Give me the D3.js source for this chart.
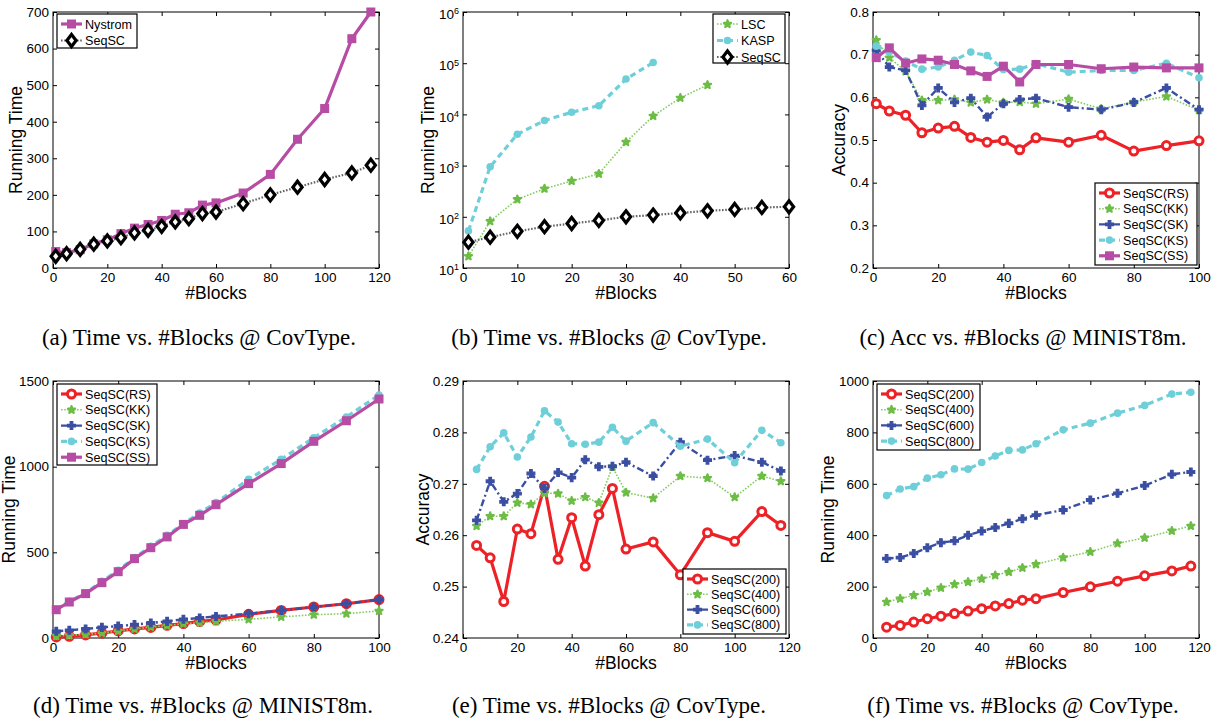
<!DOCTYPE html>
<html>
<head>
<meta charset="utf-8">
<script src="https://cdn.jsdelivr.net/npm/d3@7"></script>
<style>
  body { margin: 0; background: #fff; }
  svg { display: block; }
  .tick text { font-family: "Liberation Sans", Arial, sans-serif; font-size: 13.5px; fill: #000; }
  .tick line { stroke: #000; }
</style>
</head>
<body>
<script>
// ---- data ----

// (a) Time vs. #Blocks @ CovType
const blocksA = [1, 5, 10, 15, 20, 25, 30, 35, 40, 45, 50, 55, 60, 70, 80, 90, 100, 110, 117];
const nystromA = [45, 42, 50, 66, 77, 94, 109, 119, 130, 147, 151, 172, 178, 205, 256, 352, 436, 627, 700];
const seqscA = [32, 39, 51, 65, 74, 83, 96, 103, 114, 126, 135, 149, 153, 176, 200, 221, 242, 260, 281];

// (b) Time vs. #Blocks @ CovType (log scale)
const blocksLscB = [1, 5, 10, 15, 20, 25, 30, 35, 40, 45];
const lscB = [17, 82, 219, 354, 500, 690, 2880, 9300, 21000, 37600];
const blocksKaspB = [1, 5, 10, 15, 20, 25, 30, 35];
const kaspB = [53, 950, 4100, 7600, 11000, 14800, 49000, 103000];
const blocksSeqB = [1, 5, 10, 15, 20, 25, 30, 35, 40, 45, 50, 55, 60];
const seqscB = [32, 40, 52, 64, 74, 85, 100, 108, 119, 131, 139, 152, 157];

// (c) Acc vs. #Blocks @ MINIST8m
const blocksC = [1, 5, 10, 15, 20, 25, 30, 35, 40, 45, 50, 60, 70, 80, 90, 100];
const rsC = [0.585, 0.568, 0.558, 0.517, 0.528, 0.532, 0.506, 0.495, 0.499, 0.477, 0.505, 0.495, 0.511, 0.474, 0.487, 0.498];
const kkC = [0.734, 0.693, 0.661, 0.593, 0.593, 0.595, 0.588, 0.595, 0.588, 0.589, 0.585, 0.596, 0.573, 0.589, 0.602, 0.570];
const skC = [0.710, 0.671, 0.663, 0.581, 0.622, 0.588, 0.598, 0.554, 0.585, 0.595, 0.598, 0.577, 0.571, 0.588, 0.622, 0.571];
const ksC = [0.720, 0.706, 0.685, 0.666, 0.671, 0.687, 0.706, 0.698, 0.665, 0.666, 0.679, 0.659, 0.663, 0.663, 0.680, 0.646];
const ssC = [0.693, 0.716, 0.680, 0.690, 0.687, 0.677, 0.662, 0.649, 0.673, 0.636, 0.677, 0.677, 0.667, 0.671, 0.669, 0.669];

// (d) Time vs. #Blocks @ MINIST8m
const blocksD = [1, 5, 10, 15, 20, 25, 30, 35, 40, 45, 50, 60, 70, 80, 90, 100];
const rsD = [6, 10, 18, 29, 41, 53, 62, 74, 84, 97, 105, 138, 161, 181, 200, 224];
const kkD = [12, 16, 21, 29, 41, 53, 64, 72, 84, 89, 97, 109, 123, 136, 142, 158];
const skD = [39, 45, 53, 62, 70, 78, 88, 97, 109, 117, 126, 142, 161, 181, 200, 224];
const ksD = [167, 214, 263, 331, 395, 469, 535, 599, 667, 730, 790, 926, 1043, 1169, 1290, 1418];
const ssD = [165, 210, 259, 323, 387, 463, 527, 590, 663, 716, 778, 901, 1018, 1148, 1268, 1395];

// (e) Acc vs. #Blocks @ CovType
const blocksE = [5, 10, 15, 20, 25, 30, 35, 40, 45, 50, 55, 60, 70, 80, 90, 100, 110, 117];
const s200E = [0.2580, 0.2556, 0.2471, 0.2612, 0.2603, 0.2695, 0.2553, 0.2634, 0.2540, 0.2640, 0.2691, 0.2573, 0.2587, 0.2523, 0.2605, 0.2588, 0.2646, 0.2619];
const s400E = [0.2618, 0.2637, 0.2637, 0.2663, 0.2660, 0.2682, 0.2681, 0.2667, 0.2674, 0.2663, 0.2733, 0.2683, 0.2672, 0.2715, 0.2711, 0.2674, 0.2715, 0.2705];
const s600E = [0.2629, 0.2705, 0.2665, 0.2681, 0.2720, 0.2691, 0.2722, 0.2712, 0.2747, 0.2733, 0.2734, 0.2742, 0.2715, 0.2781, 0.2746, 0.2755, 0.2742, 0.2725];
const s800E = [0.2728, 0.2772, 0.2799, 0.2752, 0.2791, 0.2842, 0.2820, 0.2778, 0.2777, 0.2781, 0.2810, 0.2783, 0.2819, 0.2773, 0.2787, 0.2741, 0.2804, 0.2780];

// (f) Time vs. #Blocks @ CovType
const blocksF = [5, 10, 15, 20, 25, 30, 35, 40, 45, 50, 55, 60, 70, 80, 90, 100, 110, 117];
const s200F = [42, 49, 62, 75, 85, 95, 105, 114, 125, 134, 147, 153, 177, 199, 221, 242, 261, 280];
const s400F = [140, 153, 166, 179, 195, 209, 218, 230, 244, 257, 273, 287, 313, 335, 368, 390, 417, 436];
const s600F = [309, 313, 329, 351, 371, 378, 400, 416, 430, 446, 464, 478, 498, 537, 563, 593, 637, 646];
const s800F = [554, 580, 589, 622, 635, 658, 657, 683, 708, 730, 732, 756, 810, 836, 875, 905, 949, 956];

// ---- styles ----
const STYLE = {
  magenta: { line: "#b64ca3", width: 3.2, dash: null, marker: "square", color: "#b64ca3" },
  black: { line: "#666", width: 2.2, dash: "1.6,1.6", marker: "diamond", color: "#000" },
  red: { line: "#ec2227", width: 3.2, dash: null, marker: "ring", color: "#ec2227" },
  green: { line: "#86cb62", width: 1.6, dash: "1.6,1.6", marker: "star", color: "#6cbd45" },
  blue: { line: "#3a4ea2", width: 2.4, dash: "7,3,2,3", marker: "cross", color: "#3a4ea2" },
  cyan: { line: "#6fcfd9", width: 3.2, dash: "6,4", marker: "dot", color: "#6fcfd9" },
};

const SANS = '"Liberation Sans", Arial, Helvetica, sans-serif';
const SERIF = '"Liberation Serif", "Times New Roman", serif';

const panels = [
  {
    box: [53, 379, 12, 268], x: [0, 120], xTicks: d3.range(0, 121, 20),
    y: [0, 700], yTicks: d3.range(0, 701, 100), yFmt: d3.format("d"),
    yLabel: "Running Time", yLabelX: 22,
    series: [
      { name: "Nystrom", xs: blocksA, ys: nystromA, s: STYLE.magenta },
      { name: "SeqSC", xs: blocksA, ys: seqscA, s: STYLE.black },
    ],
    legend: { x: 57, y: 14, w: 80, h: 34, row: 16.5 },
    caption: "(a) Time vs. #Blocks @ CovType.", capX: 199, capY: 345,
  },
  {
    box: [463, 789, 12, 268], x: [0, 60], xTicks: d3.range(0, 61, 10),
    y: [10, 1e6], log: true, yTicks: [1e1, 1e2, 1e3, 1e4, 1e5, 1e6],
    yLabel: "Running Time", yLabelX: 434,
    series: [
      { name: "LSC", xs: blocksLscB, ys: lscB, s: STYLE.green },
      { name: "KASP", xs: blocksKaspB, ys: kaspB, s: STYLE.cyan },
      { name: "SeqSC", xs: blocksSeqB, ys: seqscB, s: STYLE.black },
    ],
    legend: { x: 713, y: 14, w: 72, h: 49, row: 16.5 },
    caption: "(b) Time vs. #Blocks @ CovType.", capX: 609, capY: 345,
  },
  {
    box: [873, 1199, 12, 268], x: [0, 100], xTicks: d3.range(0, 101, 20),
    y: [0.2, 0.8], yTicks: d3.range(2, 9).map(d => d / 10), yFmt: d3.format(".1f"),
    yLabel: "Accuracy", yLabelX: 845,
    series: [
      { name: "SeqSC(RS)", xs: blocksC, ys: rsC, s: STYLE.red },
      { name: "SeqSC(KK)", xs: blocksC, ys: kkC, s: STYLE.green },
      { name: "SeqSC(SK)", xs: blocksC, ys: skC, s: STYLE.blue },
      { name: "SeqSC(KS)", xs: blocksC, ys: ksC, s: STYLE.cyan },
      { name: "SeqSC(SS)", xs: blocksC, ys: ssC, s: STYLE.magenta },
    ],
    legend: { x: 1095, y: 183, w: 102, h: 82, row: 15.7 },
    caption: "(c) Acc vs. #Blocks @ MINIST8m.", capX: 1023, capY: 345,
  },
  {
    box: [53, 379, 381, 638], x: [0, 100], xTicks: d3.range(0, 101, 20),
    y: [0, 1500], yTicks: [0, 500, 1000, 1500], yFmt: d3.format("d"),
    yLabel: "Running Time", yLabelX: 15,
    series: [
      { name: "SeqSC(RS)", xs: blocksD, ys: rsD, s: STYLE.red },
      { name: "SeqSC(KK)", xs: blocksD, ys: kkD, s: STYLE.green },
      { name: "SeqSC(SK)", xs: blocksD, ys: skD, s: STYLE.blue },
      { name: "SeqSC(KS)", xs: blocksD, ys: ksD, s: STYLE.cyan },
      { name: "SeqSC(SS)", xs: blocksD, ys: ssD, s: STYLE.magenta },
    ],
    legend: { x: 57, y: 384, w: 100, h: 81, row: 15.8 },
    caption: "(d) Time vs. #Blocks @ MINIST8m.", capX: 203, capY: 713,
  },
  {
    box: [463, 789, 381, 638], x: [0, 120], xTicks: d3.range(0, 121, 20),
    y: [0.24, 0.29], yTicks: d3.range(24, 30).map(d => d / 100), yFmt: d3.format(".2f"),
    yLabel: "Accuracy", yLabelX: 429,
    series: [
      { name: "SeqSC(200)", xs: blocksE, ys: s200E, s: STYLE.red },
      { name: "SeqSC(400)", xs: blocksE, ys: s400E, s: STYLE.green },
      { name: "SeqSC(600)", xs: blocksE, ys: s600E, s: STYLE.blue },
      { name: "SeqSC(800)", xs: blocksE, ys: s800E, s: STYLE.cyan },
    ],
    legend: { x: 683, y: 569, w: 103, h: 65, row: 15.3 },
    caption: "(e) Time vs. #Blocks @ CovType.", capX: 609, capY: 713,
  },
  {
    box: [873, 1199, 381, 638], x: [0, 120], xTicks: d3.range(0, 121, 20),
    y: [0, 1000], yTicks: d3.range(0, 1001, 200), yFmt: d3.format("d"),
    yLabel: "Running Time", yLabelX: 834,
    series: [
      { name: "SeqSC(200)", xs: blocksF, ys: s200F, s: STYLE.red },
      { name: "SeqSC(400)", xs: blocksF, ys: s400F, s: STYLE.green },
      { name: "SeqSC(600)", xs: blocksF, ys: s600F, s: STYLE.blue },
      { name: "SeqSC(800)", xs: blocksF, ys: s800F, s: STYLE.cyan },
    ],
    legend: { x: 877, y: 384, w: 103, h: 66, row: 15.7 },
    caption: "(f) Time vs. #Blocks @ CovType.", capX: 1023, capY: 713,
  },
];

const svg = d3.select("body").append("svg")
  .attr("width", 1221)
  .attr("height", 724);

function drawMarker(g, s, cx, cy) {
  const m = s.marker;
  if (m === "square") {
    g.append("rect").attr("x", cx - 4.5).attr("y", cy - 4.5)
      .attr("width", 9).attr("height", 9).attr("fill", s.color);
  } else if (m === "diamond") {
    g.append("path")
      .attr("d", `M${cx},${cy - 6}L${cx + 4.6},${cy}L${cx},${cy + 6}L${cx - 4.6},${cy}Z`)
      .attr("fill", "#fff").attr("stroke", "#000").attr("stroke-width", 3.2);
  } else if (m === "ring") {
    g.append("circle").attr("cx", cx).attr("cy", cy).attr("r", 4)
      .attr("fill", "#fff").attr("stroke", s.color).attr("stroke-width", 3);
  } else if (m === "star") {
    // MATLAB's bold asterisk reads as a small fuzzy blob
    g.append("path").attr("transform", `translate(${cx},${cy})`)
      .attr("d", d3.symbol(d3.symbolStar, 16)())
      .attr("fill", s.color).attr("stroke", s.color).attr("stroke-width", 2.2)
      .attr("stroke-linejoin", "round");
  } else if (m === "cross") {
    g.append("path").attr("transform", `translate(${cx},${cy})`)
      .attr("d", d3.symbol(d3.symbolCross, 34)())
      .attr("fill", s.color).attr("stroke", s.color).attr("stroke-width", 1.2);
  } else if (m === "dot") {
    g.append("circle").attr("cx", cx).attr("cy", cy).attr("r", 3.8).attr("fill", s.color);
  }
}

function drawPanel(p) {
  const [left, right, top, bottom] = p.box;
  const g = svg.append("g");

  const x = d3.scaleLinear().domain(p.x).range([left, right]);
  const y = (p.log ? d3.scaleLog() : d3.scaleLinear()).domain(p.y).range([bottom, top]);

  // axes: ticks point inward, MATLAB style, on all four sides
  const clean = sel => sel.select(".domain").remove();

  g.append("g").attr("transform", `translate(0,${bottom})`)
    .call(d3.axisBottom(x).tickValues(p.xTicks).tickSizeInner(-4).tickSizeOuter(0).tickPadding(4))
    .call(clean);
  g.append("g").attr("transform", `translate(0,${top})`)
    .call(d3.axisTop(x).tickValues(p.xTicks).tickSizeInner(-4).tickSizeOuter(0).tickFormat(""))
    .call(clean);

  const yAxis = g.append("g").attr("transform", `translate(${left},0)`)
    .call(d3.axisLeft(y).tickValues(p.yTicks).tickSizeInner(-4).tickSizeOuter(0).tickPadding(4)
      .tickFormat(p.log ? () => "" : p.yFmt))
    .call(clean);
  g.append("g").attr("transform", `translate(${right},0)`)
    .call(d3.axisRight(y).tickValues(p.yTicks).tickSizeInner(-4).tickSizeOuter(0).tickFormat(""))
    .call(clean);

  g.selectAll(".tick text").style("font-family", SANS);

  if (p.log) {
    yAxis.selectAll(".tick text").each(function (d) {
      const t = d3.select(this);
      t.append("tspan").text("10");
      t.append("tspan").attr("dy", "-0.55em").style("font-size", "9px")
        .text(Math.round(Math.log10(d)));
      t.attr("dy", "0.5em");
    });
  }

  g.append("rect")
    .attr("x", left).attr("y", top)
    .attr("width", right - left).attr("height", bottom - top)
    .attr("fill", "none").attr("stroke", "#000").attr("stroke-width", 1);

  // series
  for (const ser of p.series) {
    const pts = ser.xs.map((v, i) => [v, ser.ys[i]]);
    const line = d3.line().x(d => x(d[0])).y(d => y(d[1]));
    g.append("path")
      .datum(pts)
      .attr("d", line)
      .attr("fill", "none")
      .attr("stroke", ser.s.line)
      .attr("stroke-width", ser.s.width)
      .attr("stroke-dasharray", ser.s.dash)
      .attr("stroke-linejoin", "round");
    const mg = g.append("g");
    pts.forEach(d => drawMarker(mg, ser.s, x(d[0]), y(d[1])));
  }

  // labels
  g.append("text")
    .attr("x", (left + right) / 2).attr("y", bottom + 31)
    .attr("text-anchor", "middle")
    .style("font-family", SANS).style("font-size", "17.5px")
    .text("#Blocks");

  g.append("text")
    .attr("transform", `translate(${p.yLabelX},${(top + bottom) / 2}) rotate(-90)`)
    .attr("text-anchor", "middle")
    .style("font-family", SANS).style("font-size", "17.5px")
    .text(p.yLabel);

  // legend
  const L = p.legend;
  const lg = g.append("g");
  lg.append("rect")
    .attr("x", L.x).attr("y", L.y).attr("width", L.w).attr("height", L.h)
    .attr("fill", "#fff").attr("stroke", "#000").attr("stroke-width", 1.2);
  p.series.forEach((ser, i) => {
    const cy = L.y + 10 + i * L.row;
    lg.append("line")
      .attr("x1", L.x + 4).attr("x2", L.x + 25)
      .attr("y1", cy).attr("y2", cy)
      .attr("stroke", ser.s.line)
      .attr("stroke-width", ser.s.width)
      .attr("stroke-dasharray", ser.s.dash);
    drawMarker(lg, ser.s, L.x + 14.5, cy);
    lg.append("text")
      .attr("x", L.x + 28).attr("y", cy).attr("dy", "0.36em")
      .style("font-family", SANS).style("font-size", "12.6px")
      .text(ser.name);
  });

  // caption
  svg.append("text")
    .attr("x", p.capX).attr("y", p.capY)
    .attr("text-anchor", "middle")
    .style("font-family", SERIF).style("font-size", "23px")
    .text(p.caption);
}

panels.forEach(drawPanel);
</script>
</body>
</html>
